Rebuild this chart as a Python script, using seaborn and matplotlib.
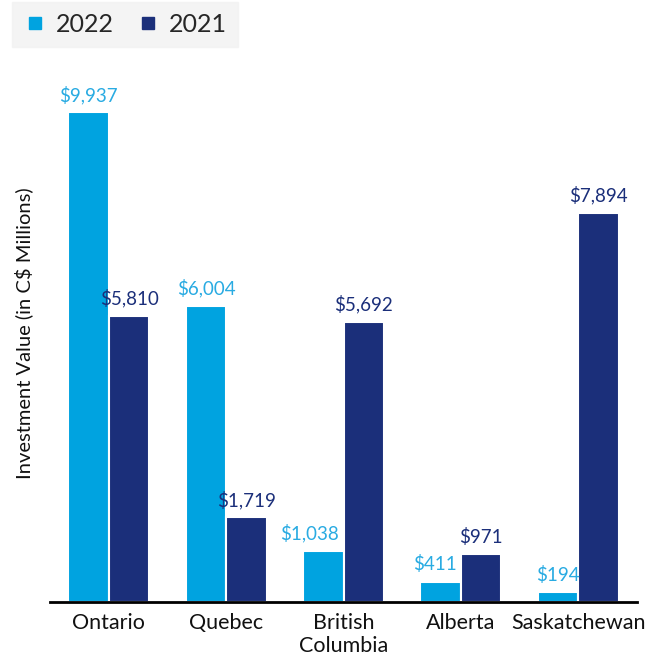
import matplotlib
matplotlib.use("Agg")
import matplotlib.pyplot as plt
import seaborn as sns
import pandas as pd
from matplotlib.lines import Line2D

provinces = ["Ontario", "Quebec", "British\nColumbia", "Alberta", "Saskatchewan"]
values_2022 = [9937, 6004, 1038, 411, 194]
values_2021 = [5810, 1719, 5692, 971, 7894]
years = ["2022", "2021"]
colors = {"2022": "#00A3E0", "2021": "#1B2F7A"}
label_colors = {"2022": "#29ABE2", "2021": "#1B2F7A"}

df = pd.DataFrame({
    "Province": provinces * 2,
    "Year": ["2022"] * 5 + ["2021"] * 5,
    "Value": values_2022 + values_2021,
})

sns.set_theme(style="white")
plt.rcParams["font.family"] = ["Lato", "DejaVu Sans"]

fig = plt.figure(figsize=(6.52, 6.59), dpi=100)
ax = fig.add_axes([0.077, 0.0865, 0.90, 0.815])

sns.barplot(data=df, x="Province", y="Value", hue="Year", hue_order=years,
            palette=colors, saturation=1, width=0.69, edgecolor="white", linewidth=1.5,
            legend=False, ax=ax)

for cont, yr in zip(ax.containers, years):
    anns = ax.bar_label(cont, labels=[f"${v:,.0f}" for v in cont.datavalues],
                        padding=6, fontsize=13.5, color=label_colors[yr])
    if yr == "2022":
        # nudge crowded labels left so they clear the neighbouring bar
        anns[2].xyann = (-10, 6)
        anns[3].xyann = (-4, 6)

ax.set_xlim(-0.5, 4.5)
ax.set_ylim(0, 10900)
ax.set_yticks([])
ax.set_xlabel("")
ax.set_ylabel("Investment Value (in C$ Millions)", fontsize=14.5, color="#111111", labelpad=12)
ax.tick_params(axis="x", labelsize=15.5, colors="#111111", length=0, pad=8)
for s in ["top", "right", "left"]:
    ax.spines[s].set_visible(False)
ax.spines["bottom"].set_color("black")
ax.spines["bottom"].set_linewidth(2)

handles = [Line2D([0], [0], marker="s", linestyle="", markersize=8,
                  markerfacecolor=colors[y], markeredgecolor=colors[y]) for y in years]
leg = fig.legend(handles, years, loc="upper left", bbox_to_anchor=(0.018, 0.997),
                 borderaxespad=0, ncol=2, frameon=True, fontsize=18, handletextpad=0.3,
                 handlelength=1.0, columnspacing=0.9, borderpad=0.45, fancybox=False)
leg.get_frame().set_facecolor("#F2F2F2")
leg.get_frame().set_edgecolor("#F2F2F2")

fig.savefig("out.png", dpi=100)
